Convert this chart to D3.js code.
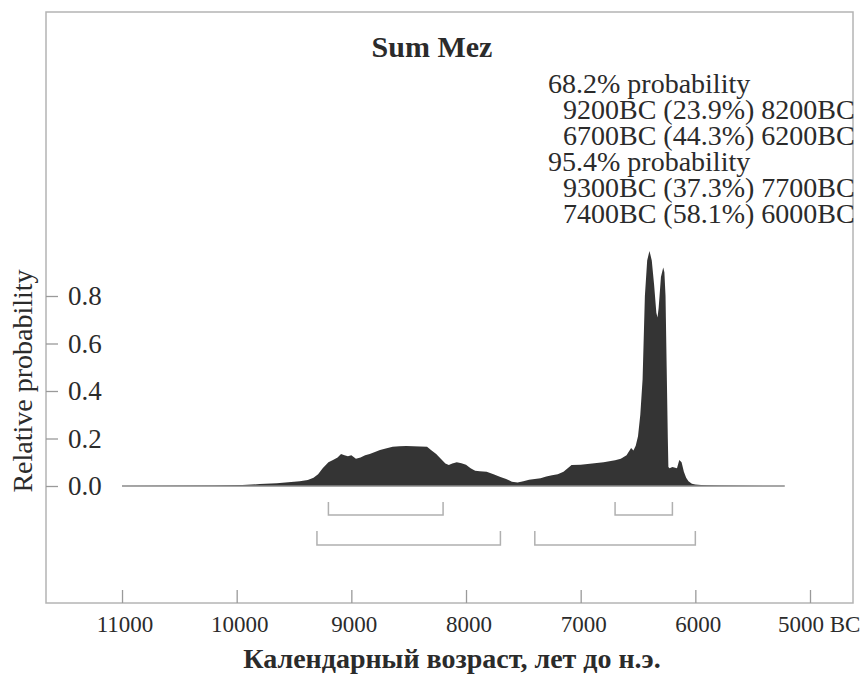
<!DOCTYPE html>
<html lang="ru">

<head>
  <meta charset="UTF-8">
  <script src="https://d3js.org/d3.v7.min.js" charset="utf-8"></script>
  <title>Sum Mez</title>
  <style>
    body { margin: 0; background: #fff; }
    text { font-family: "Liberation Serif", "DejaVu Serif", serif; fill: #2b2b2b; }
  </style>
</head>

<body>
  <script type="text/javascript">

    // summed probability distribution, years BC
    var years = [11000, 10600, 10200, 9950, 9800, 9650, 9550, 9450, 9380, 9330, 9290, 9250, 9200, 9160, 9120,
      9090, 9060, 9030, 9000, 8960, 8920, 8880, 8840, 8800, 8750, 8700, 8640, 8580, 8520, 8460, 8400, 8340,
      8300, 8260, 8220, 8180, 8150, 8120, 8080, 8040, 8000, 7960, 7920, 7880, 7820, 7760, 7700, 7650, 7600,
      7550, 7500, 7450, 7400, 7350, 7300, 7250, 7200, 7150, 7100, 7080, 7000, 6900, 6800, 6700, 6650, 6600,
      6560, 6540, 6520, 6500, 6480, 6460, 6440, 6420, 6400, 6380, 6360, 6340, 6330, 6320, 6300, 6280, 6270,
      6260, 6250, 6240, 6235, 6225, 6200, 6160, 6140, 6120, 6100, 6080, 6060, 6030, 6000, 5950, 5900, 5800,
      5600, 5400, 5220];
    var prob = [0, 0.001, 0.002, 0.004, 0.008, 0.012, 0.016, 0.02, 0.025, 0.035, 0.05, 0.075, 0.1, 0.11, 0.12,
      0.135, 0.13, 0.125, 0.13, 0.115, 0.12, 0.13, 0.135, 0.142, 0.152, 0.158, 0.165, 0.167, 0.168, 0.167, 0.166, 0.165,
      0.15, 0.135, 0.115, 0.095, 0.088, 0.095, 0.1, 0.096, 0.09, 0.075, 0.064, 0.062, 0.06, 0.05, 0.038, 0.03, 0.018,
      0.015, 0.02, 0.026, 0.03, 0.033, 0.04, 0.045, 0.05, 0.06, 0.08, 0.088, 0.09, 0.095, 0.1, 0.108, 0.115, 0.13,
      0.16, 0.15, 0.17, 0.21, 0.3, 0.45, 0.8, 0.95, 0.99, 0.95, 0.85, 0.73, 0.71, 0.75, 0.88, 0.92, 0.9,
      0.8, 0.5, 0.2, 0.08, 0.075, 0.08, 0.075, 0.11, 0.1, 0.06, 0.035, 0.02, 0.01, 0.006, 0.004, 0.003, 0.002,
      0.001, 0, 0];

    var range68 = [[9200, 8200], [6700, 6200]];
    var range95 = [[9300, 7700], [7400, 6000]];

    var infoLines = ["68.2% probability", "9200BC (23.9%) 8200BC", "6700BC (44.3%) 6200BC",
      "95.4% probability", "9300BC (37.3%) 7700BC", "7400BC (58.1%) 6000BC"];

    var xMajor = [11000, 10000, 9000, 8000, 7000, 6000, 5000];
    var yMajor = [0, 0.2, 0.4, 0.6, 0.8];

    var title = "Sum Mez";
    var xTitle = "Календарный возраст, лет до н.э.";
    var yTitle = "Relative probability";

    var W = 865, H = 681;
    var frame = { left: 46, top: 12, right: 853, bottom: 603 };

    var svg = d3.select("body").append("svg")
      .attr("width", W)
      .attr("height", H);

    var x = d3.scaleLinear()
      .domain([11663, 4625])
      .range([frame.left, frame.right]);
    var y = d3.scaleLinear()
      .domain([0, 1])
      .range([486, 248.5]);

    var data = years.map(function (d, i) { return [d, prob[i]]; });

    // frame
    svg.append("rect")
      .attr("x", frame.left)
      .attr("y", frame.top)
      .attr("width", frame.right - frame.left)
      .attr("height", frame.bottom - frame.top)
      .attr("fill", "none")
      .attr("stroke", "#b4b4b4")
      .attr("stroke-width", 1.5);

    // distribution
    var area = d3.area()
      .x(function (d) { return x(d[0]); })
      .y0(y(0))
      .y1(function (d) { return y(d[1]); });
    svg.append("path")
      .datum(data)
      .attr("d", area)
      .attr("fill", "#343434");

    svg.append("line")
      .attr("x1", x(years[0])).attr("x2", x(years[years.length - 1]))
      .attr("y1", y(0)).attr("y2", y(0))
      .attr("stroke", "#8a8a8a")
      .attr("stroke-width", 1.5);

    // ranges
    function bracket(list, top, bottom) {
      svg.selectAll(null)
        .data(list)
        .enter()
        .append("path")
        .attr("d", function (d) {
          return "M" + x(d[0]) + "," + top + "V" + bottom + "H" + x(d[1]) + "V" + top;
        })
        .attr("fill", "none")
        .attr("stroke", "#b0b0b0")
        .attr("stroke-width", 1.5);
    }
    bracket(range68, 502, 515);
    bracket(range95, 531, 545);

    // x axis (ticks inside the frame)
    var xMinor = d3.range(11600, 4799, -200).filter(function (d) { return xMajor.indexOf(d) < 0; });
    var xg = svg.append("g")
      .attr("transform", "translate(0," + frame.bottom + ")");
    xg.call(d3.axisTop(x).tickValues(xMinor).tickSize(7).tickFormat(""));
    xg.call(d3.axisTop(x).tickValues(xMajor).tickSize(13).tickFormat(""));
    xg.selectAll(".domain").remove();
    xg.selectAll("line").attr("stroke", "#9a9a9a").attr("stroke-width", 1.3);

    var xl = svg.selectAll(".xlab")
      .data(xMajor)
      .enter()
      .append("text")
      .attr("class", "xlab")
      .attr("x", function (d) { return x(d) + 3; })
      .attr("y", 632)
      .attr("text-anchor", "middle")
      .attr("font-size", 23)
      .text(function (d) { return d; });
    xl.filter(function (d) { return d === 5000; })
      .attr("text-anchor", "start")
      .attr("x", function (d) { return x(d) - 32; })
      .text("5000 BC");

    // y axis
    var yMinor = [0.1, 0.3, 0.5, 0.7, 0.9, 1.0];
    var yg = svg.append("g")
      .attr("transform", "translate(" + frame.left + ",0)");
    yg.call(d3.axisRight(y).tickValues(yMinor).tickSize(7).tickFormat(""));
    yg.call(d3.axisRight(y).tickValues(yMajor).tickSize(12).tickPadding(10).tickFormat(d3.format(".1f")));
    yg.selectAll(".domain").remove();
    yg.selectAll("line").attr("stroke", "#9a9a9a").attr("stroke-width", 1.3);
    yg.selectAll("text")
      .attr("font-size", 27)
      .attr("fill", "#2b2b2b");

    // titles
    svg.append("text")
      .attr("x", 432)
      .attr("y", 57)
      .attr("text-anchor", "middle")
      .attr("font-size", 30)
      .attr("font-weight", "bold")
      .text(title);

    svg.append("text")
      .attr("x", 452)
      .attr("y", 668)
      .attr("text-anchor", "middle")
      .attr("font-size", 28)
      .attr("font-weight", "bold")
      .text(xTitle);

    svg.append("text")
      .attr("transform", "translate(32,381) rotate(-90)")
      .attr("text-anchor", "middle")
      .attr("font-size", 28)
      .attr("fill", "#444")
      .text(yTitle);

    // probability ranges, one text block
    svg.append("text")
      .attr("font-size", 28)
      .selectAll("tspan")
      .data(infoLines)
      .enter()
      .append("tspan")
      .attr("x", function (d, i) { return (i % 3 === 0) ? 548 : 563; })
      .attr("y", function (d, i) { return 93 + i * 26; })
      .text(function (d) { return d; });

  </script>
</body>

</html>
